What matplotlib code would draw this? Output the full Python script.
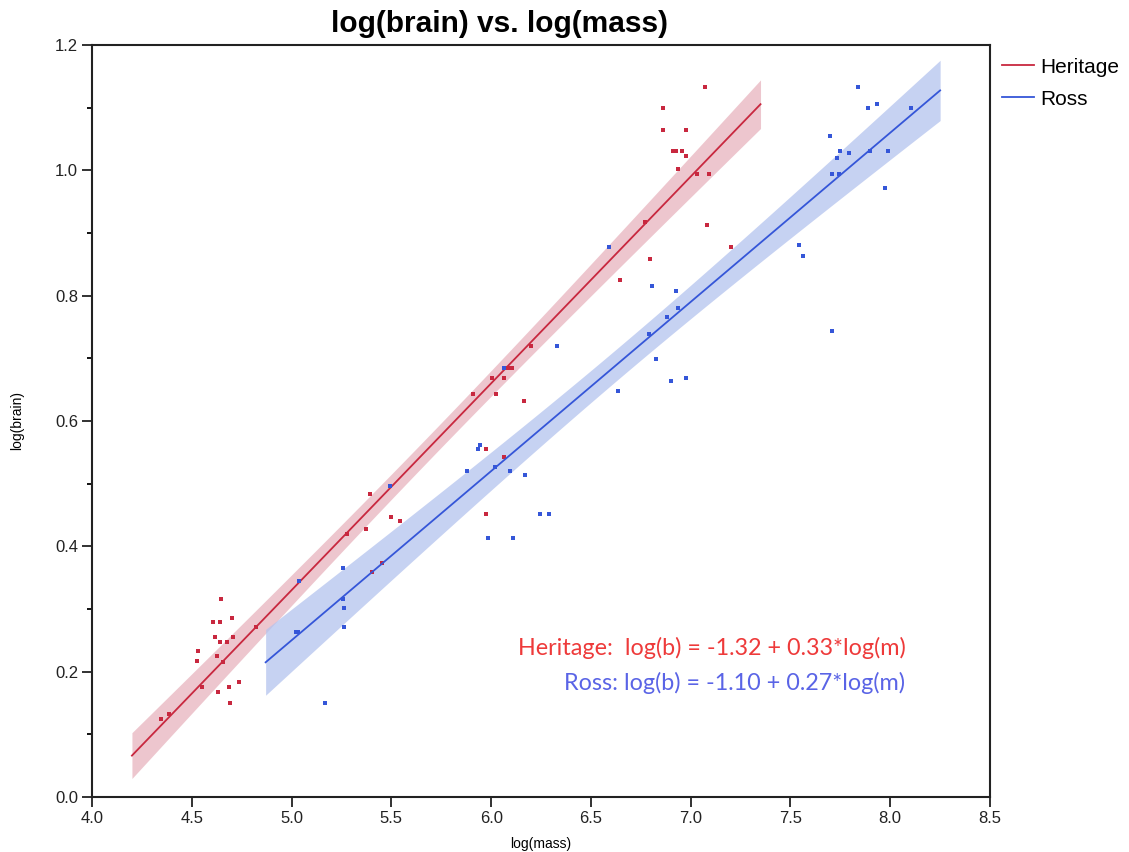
import numpy as np
import matplotlib.pyplot as plt
from matplotlib.ticker import MultipleLocator

# log(mass), log(brain) for each source
heritage_mass = [4.346, 4.387, 4.549, 4.527, 4.531, 4.648, 4.608, 4.643, 4.703,
                 4.614, 4.641, 4.676, 4.704, 4.624, 4.656, 4.736, 4.688, 4.631,
                 4.689, 4.821, 5.405, 5.452, 5.277, 5.372, 5.394, 5.496, 5.541,
                 5.911, 6.023, 6.163, 5.973, 6.062, 5.976, 6.006, 6.065, 6.077,
                 6.090, 6.105, 6.200, 6.645, 6.772, 6.794, 7.083, 7.200, 6.860,
                 6.860, 6.976, 6.910, 6.926, 6.956, 6.978, 6.938, 7.031, 7.093,
                 7.071]
heritage_brain = [0.124, 0.133, 0.176, 0.217, 0.233, 0.316, 0.279, 0.279, 0.286,
                  0.256, 0.248, 0.248, 0.256, 0.225, 0.216, 0.184, 0.176, 0.167,
                  0.150, 0.271, 0.359, 0.373, 0.419, 0.427, 0.484, 0.446, 0.440,
                  0.643, 0.643, 0.632, 0.555, 0.543, 0.452, 0.669, 0.669, 0.684,
                  0.684, 0.684, 0.719, 0.825, 0.917, 0.859, 0.913, 0.877, 1.099,
                  1.065, 1.065, 1.031, 1.031, 1.031, 1.023, 1.002, 0.994, 0.994,
                  1.133]

ross_mass = [5.020, 5.033, 5.037, 5.170, 5.258, 5.258, 5.262, 5.265, 5.494,
             5.878, 5.936, 5.943, 5.985, 6.018, 6.063, 6.097, 6.112, 6.170,
             6.247, 6.288, 6.328, 6.590, 6.634, 6.789, 6.804, 6.828, 6.881,
             6.900, 6.926, 6.936, 6.975, 7.545, 7.565, 7.698, 7.707, 7.710,
             7.732, 7.742, 7.750, 7.794, 7.837, 7.887, 7.901, 7.932, 7.972,
             7.988, 8.103]
ross_brain = [0.264, 0.264, 0.345, 0.150, 0.366, 0.316, 0.301, 0.272, 0.496,
              0.520, 0.555, 0.561, 0.414, 0.526, 0.684, 0.520, 0.414, 0.514,
              0.452, 0.452, 0.719, 0.877, 0.648, 0.738, 0.816, 0.699, 0.766,
              0.664, 0.807, 0.781, 0.669, 0.881, 0.864, 1.055, 0.743, 0.994,
              1.020, 0.994, 1.031, 1.027, 1.133, 1.099, 1.031, 1.106, 0.972,
              1.031, 1.099]

# fitted coefficients (intercept, slope) and the x-range each fit is drawn over
heritage_fit = (-1.32, 0.33)
ross_fit = (-1.10, 0.27)
heritage_span = (4.2, 7.35)
ross_span = (4.87, 8.25)

red = '#c8283f'
blue = '#3556d8'


def conf_band(xs, ys, fit, span, t=2.0):
    xs = np.asarray(xs)
    ys = np.asarray(ys)
    b0, b1 = fit
    resid = ys - (b0 + b1 * xs)
    s = np.sqrt(np.sum(resid ** 2) / (len(xs) - 2))
    sxx = np.sum((xs - xs.mean()) ** 2)
    gx = np.linspace(span[0], span[1], 200)
    gy = b0 + b1 * gx
    half = t * s * np.sqrt(1.0 / len(xs) + (gx - xs.mean()) ** 2 / sxx)
    return gx, gy, half


plt.rcParams['font.family'] = ['Liberation Sans', 'DejaVu Sans']

fig = plt.figure(figsize=(11.29, 8.52), dpi=100)
ax = fig.add_axes([0.0815, 0.0646, 0.7954, 0.8826])

for xs, ys, fit, span, col, fill, name in [
        (heritage_mass, heritage_brain, heritage_fit, heritage_span, red, '#e8b4be', 'Heritage'),
        (ross_mass, ross_brain, ross_fit, ross_span, blue, '#b4c3ee', 'Ross')]:
    gx, gy, half = conf_band(xs, ys, fit, span)
    ax.fill_between(gx, gy - half, gy + half, color=fill, alpha=0.75, lw=0)
    ax.plot(gx, gy, color=col, lw=1.3, label=name)
    ax.plot(xs, ys, 's', color=col, ms=2.4, mew=0, ls='none')

ax.set_xlim(4.0, 8.5)
ax.set_ylim(0.0, 1.2)
ax.xaxis.set_major_locator(MultipleLocator(0.5))
ax.yaxis.set_major_locator(MultipleLocator(0.2))
ax.yaxis.set_minor_locator(MultipleLocator(0.1))
ax.tick_params(axis='both', which='major', direction='out', length=7, width=1.3,
               labelsize=12, colors='#222222', pad=3)
ax.tick_params(axis='y', which='minor', direction='out', length=3.5, width=1.3)
ax.xaxis.set_major_formatter(plt.FormatStrFormatter('%.1f'))
ax.yaxis.set_major_formatter(plt.FormatStrFormatter('%.1f'))
for sp in ax.spines.values():
    sp.set_linewidth(1.5)
    sp.set_color('#222222')

ax.set_xlabel('log(mass)', fontsize=10, labelpad=8)
ax.set_ylabel('log(brain)', fontsize=10, labelpad=22)

fig.text(0.442, 0.972, 'log(brain) vs. log(mass)', ha='center', va='center',
         fontsize=21.5, fontweight='bold')

ax.legend(loc='upper left', bbox_to_anchor=(1.0134, 0.983), frameon=False,
          fontsize=15, handlelength=1.55, handletextpad=0.3, borderaxespad=0,
          borderpad=0, labelspacing=0.62)

ax.text(8.076, 0.238, 'Heritage:  log(b) = -1.32 + 0.33*log(m)', ha='right',
        va='center', color='#ee3a3a', fontsize=16.8, family='Lato')
ax.text(8.076, 0.182, 'Ross: log(b) = -1.10 + 0.27*log(m)', ha='right',
        va='center', color='#5a64e6', fontsize=16.8, family='Lato')

fig.savefig('out.png', dpi=100)
